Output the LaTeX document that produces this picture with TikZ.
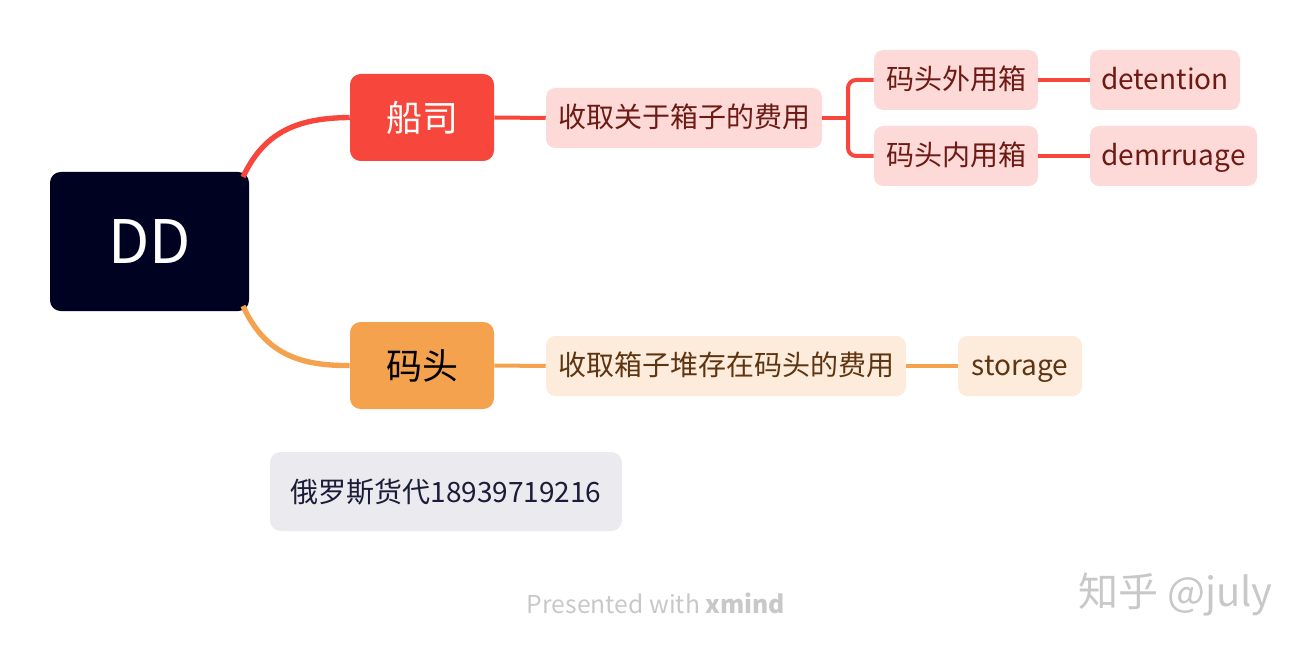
\documentclass[tikz,border=0pt]{standalone}
\usepackage{fontspec}
\setmainfont{Noto Sans CJK SC}
\definecolor{navy}{HTML}{000222}
\definecolor{redm}{HTML}{F7463B}
\definecolor{orangem}{HTML}{F5A24F}
\definecolor{pinkf}{HTML}{FDDAD8}
\definecolor{pinkt}{HTML}{6E1A14}
\definecolor{peachf}{HTML}{FDEBDC}
\definecolor{peacht}{HTML}{5E3510}
\definecolor{notef}{HTML}{EBEAEE}
\definecolor{notet}{HTML}{1B1B3A}
\definecolor{wm}{HTML}{C8C8C8}
\tikzset{
  base/.style={rounded corners=8pt, inner sep=0pt, align=center},
  root/.style={base, fill=navy, text=white, font=\fontsize{45}{50}\selectfont, minimum width=149.25pt, minimum height=104.25pt},
  maintopic/.style={base, font=\fontsize{27}{30}\selectfont, minimum width=108pt, minimum height=65.25pt},
  sub/.style={base, rounded corners=7pt, font=\fontsize{21}{24}\selectfont, minimum height=45pt, text height=1.36em, text depth=0pt},
  redsub/.style={sub, fill=pinkf, text=pinkt},
  orsub/.style={sub, fill=peachf, text=peacht},
  redline/.style={draw=redm, line width=3pt},
  orline/.style={draw=orangem, line width=3pt},
  curve/.style={line width=4pt},
}
\begin{document}
\begin{tikzpicture}[x=0.75pt, y=-0.75pt]
\useasboundingbox (0,0) rectangle (1308,652);
\node[root] (dd) at (149.5,241.5) {DD};
\node[maintopic, fill=redm, text=white] (cs) at (422,117.5) {船司};
\node[maintopic, fill=orangem, text=black] (mt) at (422,365.5) {码头};
\node[redsub, minimum width=207pt] (s1) at (684,118) {收取关于箱子的费用};
\node[redsub, minimum width=123pt] (c1) at (956,80) {码头外用箱};
\node[redsub, minimum width=123pt] (c2) at (956,156) {码头内用箱};
\node[redsub, minimum width=112.5pt] (d1) at (1165,80) {detention};
\node[redsub, minimum width=125.25pt] (d2) at (1173.5,156) {demrruage};
\node[orsub, minimum width=270pt] (s2) at (726,366) {收取箱子堆存在码头的费用};
\node[orsub, minimum width=93pt] (st) at (1020,366) {storage};
\node[base, fill=notef, text=notet, font=\fontsize{21}{24}\selectfont, minimum width=264pt, minimum height=59.25pt] (note) at (446,491.5) {俄罗斯货代18939719216};
\node[text=wm, font=\fontsize{18.5}{20}\selectfont, inner sep=0pt] (pw) at (656,603) {Presented with \textbf{xmind}};
\node[text=wm, font=\fontsize{30}{32}\selectfont, inner sep=0pt, anchor=west] (zh) at (1078,595) {知乎 @july};
% connectors
\coordinate (ddtop) at (243,177);
\coordinate (ddbot) at (243,306);
\draw[redline, curve] (ddtop) .. controls (265,130) and (300,118) .. (cs.west);
\draw[orline, curve] (ddbot) .. controls (265,354) and (300,366) .. (mt.west);
\draw[redline] (cs.east) -- (s1.west);
\coordinate (br) at (848,118);
\draw[redline] (s1.east) -- (br);
\draw[redline, rounded corners=6pt] (c1.west) -- (br |- c1.west) -- (br |- c2.west) -- (c2.west);
\draw[redline] (c1.east) -- (d1.west);
\draw[redline] (c2.east) -- (d2.west);
\draw[orline] (mt.east) -- (s2.west);
\draw[orline] (s2.east) -- (st.west);
\end{tikzpicture}
\end{document}
